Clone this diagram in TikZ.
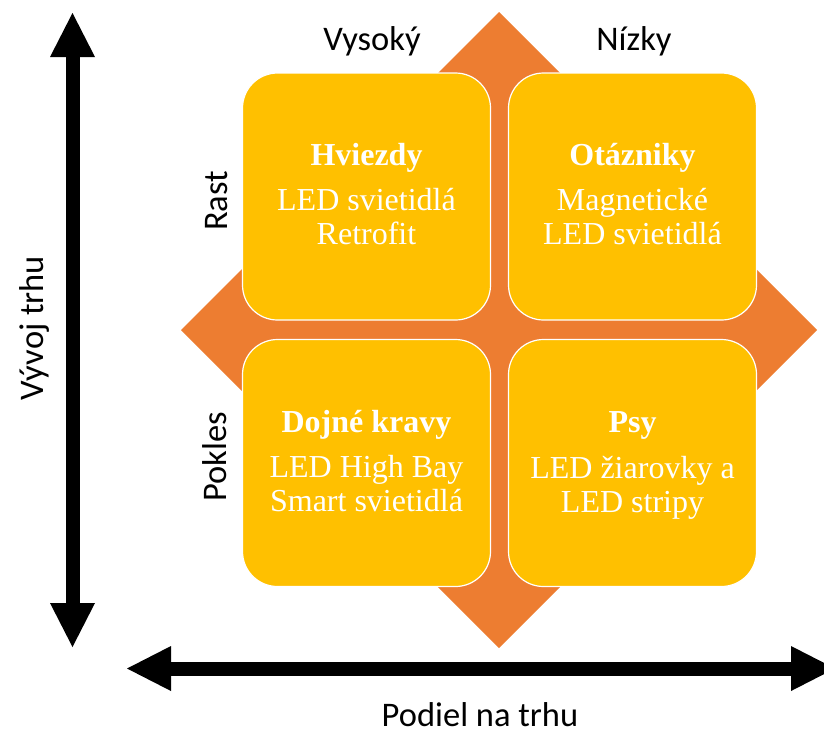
\documentclass[tikz,border=0pt]{standalone}
\usepackage{fontspec}
\setmainfont{Liberation Serif}
\newfontfamily\labelfont{Carlito}
\usetikzlibrary{arrows.meta}

\definecolor{diamondorange}{HTML}{ED7D31}
\definecolor{cellgold}{HTML}{FFC000}

\tikzset{
  cell/.style={draw=white, line width=1.2pt, fill=cellgold, rounded corners=35pt,
    minimum width=248pt, minimum height=247pt, inner sep=0pt},
  celltitle/.style={anchor=base, text=white, inner sep=0pt,
    font=\fontsize{32}{35}\selectfont\bfseries},
  cellline/.style={anchor=base, text=white, inner sep=0pt,
    font=\fontsize{32}{35}\selectfont},
  axislabel/.style={anchor=base, inner sep=0pt, text=black,
    font=\labelfont\fontsize{34.5}{38}\selectfont},
  axisarrow/.style={line width=14pt, black,
    {Triangle[length=44pt,width=45pt,line width=0pt]}-{Triangle[length=44pt,width=45pt,line width=0pt]}}
}

\begin{document}
\begin{tikzpicture}[x=1pt, y=-1pt]
\useasboundingbox (0,0) rectangle (824,729);
\clip (0,0) rectangle (824,729);

% diamond behind the four cells
\coordinate (dtop) at (499,12);
\coordinate (dright) at (817,330);
\coordinate (dbottom) at (499,648);
\coordinate (dleft) at (181,330);
\fill[diamondorange] (dtop) -- (dright) -- (dbottom) -- (dleft) -- cycle;

% the four cells
\node[cell] (tl) at (366.5,196.5) {};
\node[cell] (tr) at (632.5,196.5) {};
\node[cell] (bl) at (366.5,463) {};
\node[cell] (br) at (632.5,463) {};

% cell texts
\node[celltitle] (tlt) at ([yshift=31pt]tl.center) {Hviezdy};
\node[cellline] (tl1) at ([yshift=-14pt]tl.center) {LED svietidlá};
\node[cellline] (tl2) at ([yshift=-48pt]tl.center) {Retrofit};

\node[celltitle] (trt) at ([yshift=31pt]tr.center) {Otázniky};
\node[cellline] (tr1) at ([yshift=-14pt]tr.center) {Magnetické};
\node[cellline] (tr2) at ([yshift=-48pt]tr.center) {LED svietidlá};

\node[celltitle] (blt) at ([yshift=31pt]bl.center) {Dojné kravy};
\node[cellline] (bl1) at ([yshift=-14pt]bl.center) {LED High Bay};
\node[cellline] (bl2) at ([yshift=-48pt]bl.center) {Smart svietidlá};

\node[celltitle] (brt) at ([yshift=31pt]br.center) {Psy};
\node[cellline] (br1) at ([yshift=-15pt]br.center) {LED žiarovky a};
\node[cellline] (br2) at ([yshift=-49pt]br.center) {LED stripy};

% column and row labels
\node[axislabel] (high) at (372,50) {Vysoký};
\node[axislabel] (low) at (634,50) {Nízky};
\node[axislabel, rotate=90] (grow) at (227,201) {Rast};
\node[axislabel, rotate=90] (fall) at (226,457) {Pokles};

% axes
\coordinate (vtop) at (72.5,13);
\coordinate (vbottom) at (72.5,647);
\coordinate (hleft) at (127,668.5);
\coordinate (hright) at (835,668.5);
\draw[axisarrow] (vbottom) -- (vtop);
\draw[axisarrow] (hleft) -- (hright);

\node[axislabel, rotate=90] (vlabel) at (43,328) {Vývoj trhu};
\node[axislabel] (hlabel) at (480,726) {Podiel na trhu};
\end{tikzpicture}
\end{document}
